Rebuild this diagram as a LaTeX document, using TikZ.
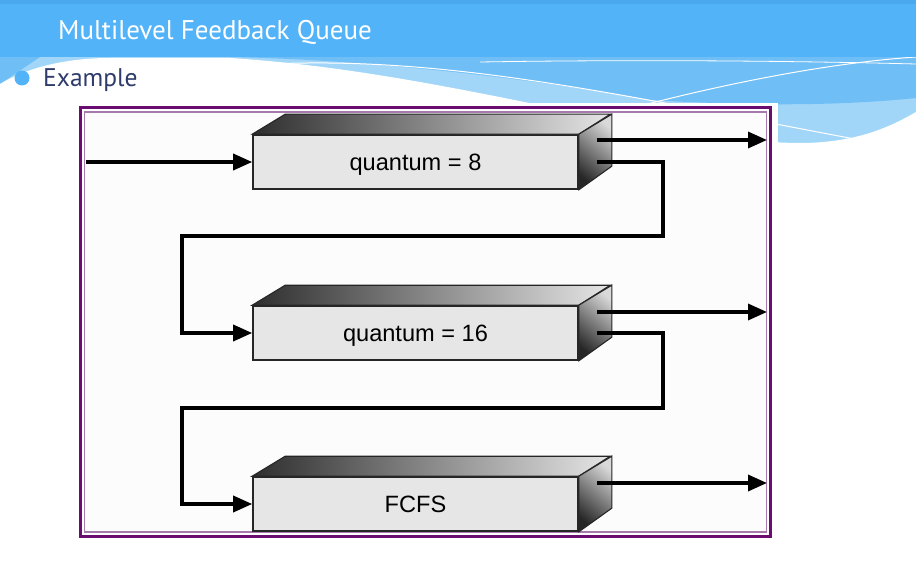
\documentclass[tikz,border=0pt]{standalone}
\usepackage{fontspec}
\setmainfont{Liberation Sans}
\newfontfamily\titlefont{PT Sans}
\usetikzlibrary{arrows.meta}
\definecolor{band}{HTML}{53B3F9}
\definecolor{bandtop}{HTML}{4AA8EE}
\definecolor{wavemid}{HTML}{6FBEF5}
\definecolor{wavelight}{HTML}{A2D6F8}
\definecolor{navy}{HTML}{2E3B6B}
\definecolor{framepurple}{HTML}{6A0C70}
\definecolor{framelight}{HTML}{A77AAE}
\definecolor{frontgray}{HTML}{E6E6E6}
\tikzset{
  frontbox/.style={draw=black!85, line width=1.6pt, fill=frontgray, minimum width=325pt, minimum height=54pt, inner sep=0pt, text height=16.5pt, text depth=0pt, font=\fontsize{23.6}{26}\selectfont},
  topface/.style={draw=black!85, line width=1.1pt, left color=black!82, right color=black!10},
  sideface/.style={draw=black!85, line width=1.1pt, top color=black!15, bottom color=black!85, shading angle=-40},
  flow/.style={line width=3.4pt, -{Triangle[length=19pt,width=16pt]}},
}
\begin{document}
\begin{tikzpicture}[x=1pt,y=-1pt]
\useasboundingbox (0,0) rectangle (916,583);
% background waves
\fill[wavelight] (0,57) rectangle (916,150);
\fill[wavemid] (230,57) -- (916,57) -- (916,98) .. controls (820,108) and (720,104) .. (650,100) .. controls (540,80) and (380,60) .. (230,57) -- cycle;
\fill[wavemid] (0,57) -- (40,57) -- (0,84) -- cycle;
\fill[white] (0,84) .. controls (30,66) and (70,58) .. (110,58) -- (230,58) .. controls (450,72) and (650,142) .. (800,143) .. controls (860,143) and (895,124) .. (916,112) -- (916,583) -- (0,583) -- cycle;
\draw[white, line width=1pt] (270,64) .. controls (450,56) and (620,95) .. (860,140);
\draw[white, line width=1pt] (640,106) .. controls (740,80) and (840,62) .. (916,57);
\draw[white, line width=0.8pt] (480,62) .. controls (600,60) and (760,60) .. (916,64);
% title band
\fill[band] (0,0) rectangle (916,57);
\fill[bandtop] (0,0) rectangle (916,4);
\node[anchor=base west, inner sep=0pt, text=white, font=\titlefont\fontsize{27}{30}\selectfont] (title) at (58,40) {Multilevel Feedback Queue};
% bullet
\fill[band] (22,78) circle (7.5);
\node[anchor=base west, inner sep=0pt, text=navy, font=\titlefont\fontsize{25.5}{28}\selectfont] (example) at (43,87) {Example};
% diagram background and frame
\fill[white] (78,103) rectangle (778,541);
\fill[black!1] (84,111.5) rectangle (767.5,532.5);
\draw[framepurple, line width=3pt] (80.5,108) rectangle (770.5,536);
\draw[framelight, line width=1.1pt] (84.5,112) rectangle (766.5,532);
% boxes
\foreach \n/\y/\t in {1/162/{quantum = 8}, 2/333/{quantum = 16}, 3/504/{FCFS}} {
  \node[frontbox] (b\n) at (415.5,\y) {\t};
  \shade[topface] (b\n.north west) -- ++(33,-20) -- ++(325,0) -- (b\n.north east) -- cycle;
  \shade[sideface] (b\n.north east) -- ++(33,-20) -- ++(0,52) -- (b\n.south east) -- cycle;
}
% coordinates
\coordinate (in) at (86,162);
\coordinate (o1a) at (597,140);
\coordinate (o1b) at (597,162);
\coordinate (x1a) at (767,140);
\coordinate (r1) at (663,236);
\coordinate (l1) at (182,236);
\coordinate (o2a) at (597,312);
\coordinate (o2b) at (597,333);
\coordinate (x2a) at (767,312);
\coordinate (r2) at (663,408);
\coordinate (l2) at (182,408);
\coordinate (o3a) at (597,483);
\coordinate (x3a) at (767,483);
% connectors
\draw[flow] (in) -- (b1.west);
\draw[flow] (o1a) -- (x1a);
\draw[flow] (o1b) -| (r1) -- (l1) |- (b2.west);
\draw[flow] (o2a) -- (x2a);
\draw[flow] (o2b) -| (r2) -- (l2) |- (b3.west);
\draw[flow] (o3a) -- (x3a);
\end{tikzpicture}
\end{document}
